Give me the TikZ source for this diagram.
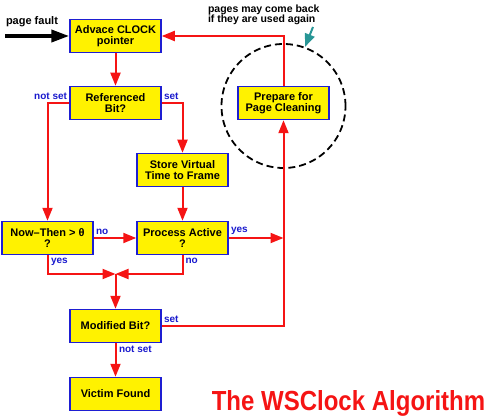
\documentclass[tikz,border=0pt]{standalone}
\usepackage{fontspec}
\setmainfont{Liberation Sans}
\usetikzlibrary{arrows.meta,positioning}
\definecolor{boxblue}{RGB}{30,30,210}
\definecolor{flowred}{RGB}{245,20,20}
\definecolor{notecyan}{RGB}{40,150,150}
\definecolor{lblblue}{RGB}{25,25,205}

\begin{document}
\begin{tikzpicture}[x=1pt,y=-1pt,->,>={Triangle[length=13pt,width=10pt]},
                    flowred,line width=2pt]

  \tikzstyle{action}=[rectangle,draw=boxblue,fill=yellow,line width=1.5pt,
                      minimum width=91pt,minimum height=33pt,align=center,
                      text=black,inner sep=1pt,
                      font=\bfseries\fontsize{11}{11.5}\selectfont]
  \tikzstyle{lbl}=[text=lblblue,inner sep=0.5pt,
                   font=\bfseries\fontsize{10}{10}\selectfont]

  \useasboundingbox (0,0) rectangle (488,420);

  \node[action] (adv)    at (115.5,36)  {Advace CLOCK\\pointer};
  \node[action] (ref)    at (115.5,103) {Referenced\\Bit?};
  \node[action] (store)  at (182.5,170) {Store Virtual\\Time to Frame};
  \node[action] (now)    at (47.5,238)  {Now–Then > θ\\?};
  \node[action] (proc)   at (182.5,238) {Process Active\\?};
  \node[action] (mod)    at (115.5,326) {Modified Bit?};
  \node[action] (victim) at (115.5,394) {Victim Found};
  \node[action] (prep)   at (283.5,103) {Prepare for\\Page Cleaning};

  % pages set aside for cleaning
  \node[circle,draw=black,dash pattern=on 7pt off 4pt,line width=1.8pt,
        minimum size=124pt,inner sep=0pt] (clean) at (283.5,106) {};
  \node[anchor=north west,align=left,text=black,inner sep=0pt,
        font=\bfseries\fontsize{10.5}{10}\selectfont] (note) at (207,4)
        {pages may come back\\if they are used again};
  \coordinate (notetail) at (313,27);
  \draw[notecyan,line width=2pt] (notetail) -- (clean.70);

  % entry
  \coordinate (pfstart) at (5,36);
  \node[anchor=base west,text=black,inner sep=0pt,
        font=\bfseries\fontsize{11}{11}\selectfont] (pflbl) at (5,25) {page fault};
  \draw[black,line width=3.8pt,-{Triangle[length=18pt,width=12pt]}] (pfstart) -- (adv.west);

  \coordinate (join) at (115.5,274);

  \path
  (prep.north) edge[to path={|- (\tikztotarget)}] (adv.east)
  (adv) edge (ref)
  (ref.west) edge[to path={-| (\tikztotarget)}] (now.north)
  (ref.east) edge[to path={-| (\tikztotarget)}] (store.north)
  (store) edge (proc)
  (now) edge (proc)
  (proc.east) edge (prep |- proc)
  (mod.east) edge[to path={-| (\tikztotarget)}] (prep.south)
  (now.south) edge[to path={|- (\tikztotarget)}] (join)
  (proc.south) edge[to path={|- (\tikztotarget)}] (join)
  (join) edge (mod)
  (mod) edge (victim)
  ;

  \node[lbl,anchor=south east] (refno)  at (68.5,101.5) {not set};
  \node[lbl,anchor=south west] (refyes) at (162.5,101.5) {set};
  \node[lbl,anchor=south west] (nowno)  at (94.5,236.5) {no};
  \node[lbl,anchor=north west] (nowyes) at (49.5,256.5) {yes};
  \node[lbl,anchor=south west] (procyes) at (229.5,236.5) {yes};
  \node[lbl,anchor=north west] (procno) at (184,256.5) {no};
  \node[lbl,anchor=south west] (modyes) at (162.5,324.5) {set};
  \node[lbl,anchor=north west] (modno)  at (117.5,344.5) {not set};

  \node[anchor=base,text=flowred,inner sep=0pt,
        font=\bfseries\fontsize{24}{24}\selectfont] (title) at (348.5,410)
        {\scalebox{1}[1.15]{The WSClock Algorithm}};

\end{tikzpicture}
\end{document}
